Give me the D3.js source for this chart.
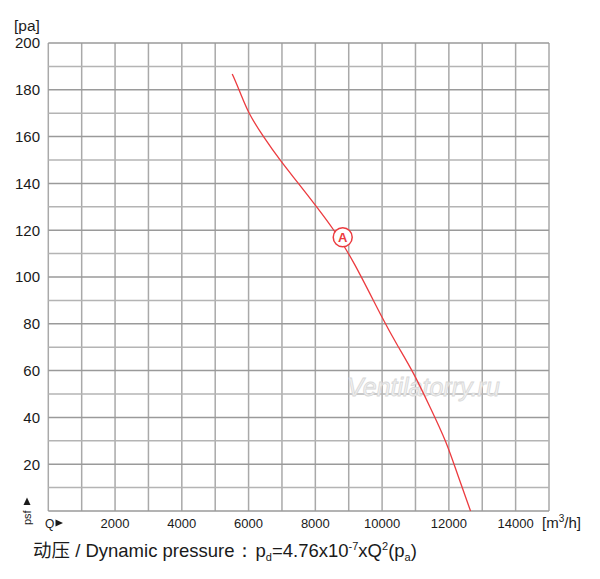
<!DOCTYPE html>
<html><head><meta charset="utf-8">
<script src="https://cdn.jsdelivr.net/npm/d3@7"></script>
<style>
html,body{margin:0;padding:0;background:#fff;}
svg{display:block;font-family:"Liberation Sans",Arial,Helvetica,sans-serif;}
</style></head>
<body><svg id="chart" width="600" height="579"></svg>
<script>
// Data
const flowQ    = [5510, 5740, 5990, 6440, 6970, 7440, 8040, 8530, 9130, 10030, 10480, 10930, 11430, 11930, 12280, 12650];
const pressure = [186.8, 179.2, 170.0, 160.0, 149.3, 141.0, 130.0, 120.8, 107.3, 81.6, 70.2, 59.5, 44.6, 29.6, 14.7, 0];
const pointA   = {label: "A", q: 8820, p: 117};
const xTicks   = [2000, 4000, 6000, 8000, 10000, 12000, 14000];
const yTicks   = [20, 40, 60, 80, 100, 120, 140, 160, 180, 200];

const svg = d3.select("#chart");
const x = d3.scaleLinear().domain([0, 15000]).range([48.3, 549]);
const y = d3.scaleLinear().domain([0, 200]).range([511, 43]);

// grid
const g = svg.append("g");
g.selectAll("line.v").data(d3.range(0, 15001, 1000)).join("line")
  .attr("x1", d => x(d)).attr("x2", d => x(d))
  .attr("y1", y(0)).attr("y2", y(200))
  .attr("stroke", "#a9a9a9").attr("stroke-width", 1.5);
g.selectAll("line.h").data(d3.range(0, 201, 10)).join("line")
  .attr("x1", x(0)).attr("x2", x(15000))
  .attr("y1", d => y(d)).attr("y2", d => y(d))
  .attr("stroke", d => d % 20 === 0 ? "#9a9a9a" : "#b4b4b4").attr("stroke-width", 1.5);

// watermark
svg.append("text").attr("x", 347).attr("y", 396)
  .attr("font-size", 25).attr("font-style", "italic")
  .attr("fill", "#f1f1f1").attr("stroke", "#d8d8d8").attr("stroke-width", 0.8)
  .text("Ventilatorry.ru");

// y tick labels
svg.append("g").selectAll("text").data(yTicks).join("text")
  .attr("x", 40).attr("y", d => y(d)).attr("dy", "0.36em")
  .attr("text-anchor", "end").attr("font-size", 15).attr("fill", "#1a1a1a")
  .text(d => d);
svg.append("text").attr("x", 14).attr("y", 31).attr("font-size", 15.5).attr("fill", "#1a1a1a").text("[pa]");

// x tick labels
svg.append("g").selectAll("text").data(xTicks).join("text")
  .attr("x", d => x(d)).attr("y", 523).attr("dy", "0.36em")
  .attr("text-anchor", "middle").attr("font-size", 13).attr("fill", "#1a1a1a")
  .text(d => d);
const unit = svg.append("text").attr("x", 542).attr("y", 528).attr("font-size", 15).attr("fill", "#1a1a1a");
unit.append("tspan").text("[m");
unit.append("tspan").attr("font-size", 10).attr("dy", -6).text("3");
unit.append("tspan").attr("dy", 6).text("/h]");

// Q► and psf►
svg.append("text").attr("x", 45).attr("y", 527.5).attr("font-size", 12).attr("fill", "#1a1a1a").text("Q");
svg.append("path").attr("d", "M55.5,519.5 L63,523 L55.5,526.5 Z").attr("fill", "#1a1a1a");
svg.append("text").attr("transform", "translate(31,525) rotate(-90)")
  .attr("font-size", 11).attr("fill", "#1a1a1a").text("psf");
svg.append("path").attr("d", "M23.5,505 L27,497.5 L30.5,505 Z").attr("fill", "#1a1a1a");

// curve
const line = d3.line().x(d => x(d[0])).y(d => y(d[1])).curve(d3.curveBasis);
svg.append("path").datum(d3.zip(flowQ, pressure)).attr("d", line)
  .attr("fill", "none").attr("stroke", "#ec3b3f").attr("stroke-width", 1.3);

// point A
svg.append("circle").attr("cx", x(pointA.q)).attr("cy", y(pointA.p)).attr("r", 9.5)
  .attr("fill", "#fff").attr("stroke", "#ec3b3f").attr("stroke-width", 1.5);
svg.append("text").attr("x", x(pointA.q)).attr("y", y(pointA.p)).attr("dy", "0.36em")
  .attr("text-anchor", "middle").attr("font-size", 13).attr("font-weight", "bold")
  .attr("fill", "#ec3b3f").text(pointA.label);

// footer formula
const f = svg.append("text").attr("x", 33).attr("y", 557).attr("font-size", 18.5).attr("fill", "#1a1a1a");
f.append("tspan").attr("font-family", "'Noto Sans CJK SC'").text("动压");
f.append("tspan").text(" / Dynamic pressure：");
f.append("tspan").attr("dx", 2).text("p");
f.append("tspan").attr("font-size", 11).attr("dy", 4).text("d");
f.append("tspan").attr("dy", -4).text("=4.76x10");
f.append("tspan").attr("font-size", 11).attr("dy", -7).text("-7");
f.append("tspan").attr("dy", 7).text("xQ");
f.append("tspan").attr("font-size", 11).attr("dy", -7).text("2");
f.append("tspan").attr("dy", 7).text("(p");
f.append("tspan").attr("font-size", 11).attr("dy", 4).text("a");
f.append("tspan").attr("dy", -4).text(")");
</script></body></html>
